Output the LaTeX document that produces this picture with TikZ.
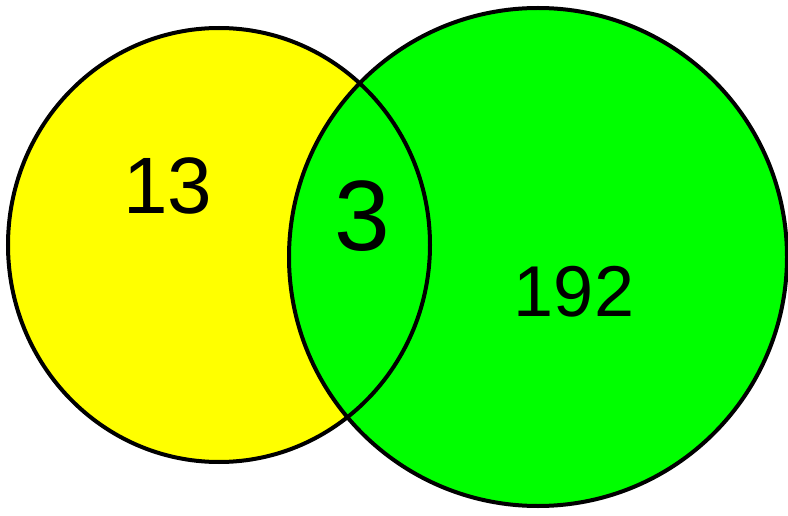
\documentclass[tikz,border=0pt]{standalone}
\usepackage{fontspec}
\setmainfont{Liberation Sans}
\definecolor{vyellow}{HTML}{FFFF00}
\definecolor{vgreen}{HTML}{00FF00}
\tikzset{
  setline/.style={draw=black, line width=4pt},
  numlabel/.style={font=\fontsize{80}{80}\selectfont, inner sep=0pt}
}
\begin{document}
\begin{tikzpicture}[x=1pt,y=-1pt]
\useasboundingbox (0,0) rectangle (788,516);
\fill[white] (0,0) rectangle (788,516);
% yellow set
\fill[vyellow] (219,245) ellipse [x radius=211, y radius=217];
\draw[setline] (219,245) ellipse [x radius=211, y radius=217];
% green set
\fill[vgreen] (538,257) ellipse [x radius=249, y radius=249];
\draw[setline] (538,257) ellipse [x radius=249, y radius=249];
% yellow outline over the overlap
\begin{scope}
\clip (538,257) ellipse [x radius=249, y radius=249];
\draw[setline] (219,245) ellipse [x radius=211, y radius=217];
\end{scope}
\node[numlabel] (a) at (168,186) {13};
\node[numlabel, font=\fontsize{100}{100}\selectfont] (b) at (362,216) {3};
\node[numlabel, font=\fontsize{72}{72}\selectfont] (c) at (574,292) {192};
\end{tikzpicture}
\end{document}
